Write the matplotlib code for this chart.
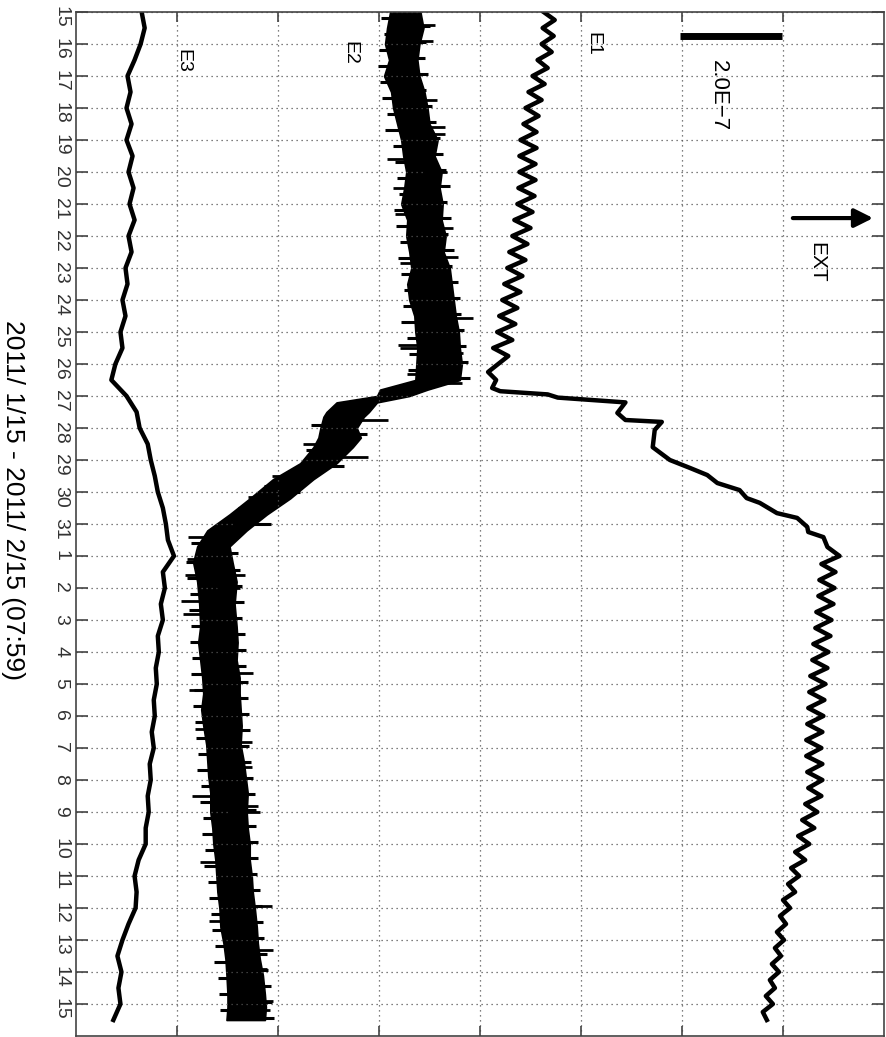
import numpy as np
import matplotlib.pyplot as plt

plt.rcParams['font.family'] = ['Liberation Sans', 'DejaVu Sans']

# time axis: days since 2011-01-15 00:00, value axis: grid divisions (1 div = 2.0E-7)
day_labels = [str(d) for d in range(15, 32)] + [str(d) for d in range(1, 16)]

# E1 - before the step (every 6 h from day 0)
e1_before = [4.63, 4.74, 4.62, 4.73, 4.61, 4.71, 4.57, 4.67,
             4.52, 4.64, 4.48, 4.61, 4.45, 4.58, 4.43, 4.56,
             4.40, 4.56, 4.39, 4.55, 4.39, 4.55, 4.38, 4.54,
             4.37, 4.52, 4.34, 4.50, 4.32, 4.47, 4.29, 4.45,
             4.27, 4.42, 4.24, 4.40, 4.22, 4.37, 4.19, 4.35,
             4.17, 4.32, 4.13, 4.28, 4.18, 4.08, 4.16, 4.12]
# E1 - step
e1_step_t = [11.85, 11.95, 12.05, 12.2, 12.53, 12.75, 12.81, 13.06, 13.6, 14.0, 14.25,
             14.47, 14.72, 14.94, 15.19, 15.34, 15.66, 15.81, 16.09, 16.25, 16.41, 16.72]
e1_step = [4.20, 4.67, 4.77, 5.44, 5.36, 5.44, 5.80, 5.73, 5.71, 5.88, 6.08,
           6.25, 6.35, 6.57, 6.64, 6.77, 6.94, 7.14, 7.24, 7.25, 7.40, 7.44]
# E1 - after the step (every 6 h from day 17)
e1_after = [7.56, 7.38, 7.52, 7.36, 7.51, 7.35, 7.50, 7.33,
            7.48, 7.32, 7.47, 7.30, 7.45, 7.29, 7.44, 7.27,
            7.42, 7.26, 7.41, 7.25, 7.40, 7.24, 7.39, 7.23,
            7.38, 7.23, 7.39, 7.24, 7.39, 7.25, 7.38, 7.22,
            7.34, 7.19, 7.31, 7.15, 7.26, 7.12, 7.22, 7.08,
            7.16, 7.05, 7.12, 7.00, 7.07, 6.97, 7.03, 6.94,
            7.01, 6.92, 6.98, 6.89, 6.96, 6.87, 6.92, 6.83,
            6.90, 6.80, 6.84]

# E2 - noisy band: left / right edge of the trace
e2_t = [0.0, 0.5, 1.0, 1.5, 2.0, 2.5, 3.0, 3.5, 4.0, 4.5, 5.0, 5.5, 6.0, 6.5, 7.0, 7.5,
        8.0, 8.5, 9.0, 9.5, 10.0, 10.5, 11.0, 11.5,
        11.8, 12.0, 12.2, 12.5, 12.65, 13.0, 13.3, 13.6, 14.1, 14.6, 15.2, 15.7, 16.2,
        16.7, 17.2, 17.8,
        18.5, 19.2, 19.7, 20.25, 20.8, 21.3, 21.8, 22.3, 22.9, 23.4, 23.9, 24.4, 25.0,
        25.5, 26.0, 26.5, 27.0, 27.5, 28.0, 28.6, 29.1, 29.6, 30.1, 30.7, 31.1, 31.5]
e2_left = [3.11, 3.08, 3.06, 3.10, 3.05, 3.12, 3.14, 3.18, 3.22, 3.24, 3.27, 3.25,
           3.22, 3.28, 3.27, 3.30, 3.32, 3.28, 3.30, 3.35, 3.36, 3.38, 3.37, 3.36,
           3.01, 2.98, 2.58, 2.48, 2.45, 2.42, 2.40, 2.35, 2.22, 1.95, 1.72, 1.52,
           1.30, 1.20, 1.16, 1.20,
           1.22, 1.23, 1.21, 1.23, 1.25, 1.26, 1.24, 1.26, 1.29, 1.30, 1.31, 1.33,
           1.33, 1.35, 1.36, 1.38, 1.39, 1.40, 1.42, 1.43, 1.46, 1.48, 1.49, 1.50,
           1.50, 1.49]
e2_right = [3.41, 3.44, 3.40, 3.38, 3.40, 3.45, 3.48, 3.50, 3.58, 3.55, 3.62, 3.60,
            3.63, 3.62, 3.66, 3.64, 3.70, 3.72, 3.74, 3.76, 3.79, 3.80, 3.82, 3.80,
            3.48, 3.30, 2.98, 2.90, 2.85, 2.78, 2.82, 2.74, 2.58, 2.35, 2.12, 1.89,
            1.69, 1.52, 1.55, 1.59,
            1.57, 1.59, 1.60, 1.59, 1.62, 1.62, 1.63, 1.64, 1.63, 1.66, 1.68, 1.70,
            1.69, 1.70, 1.72, 1.72, 1.74, 1.75, 1.77, 1.79, 1.80, 1.82, 1.85, 1.87,
            1.88, 1.87]
# E2 - large single excursions
e2_spike_t = [0.4, 0.9, 1.2, 2.2, 2.75, 3.6, 3.8, 4.6, 5.0, 5.5, 6.3, 6.75, 7.65, 7.85,
              9.55, 10.4, 10.5, 10.65, 11.3, 11.6, 12.75, 13.5, 13.9, 14.5, 15.15, 15.8,
              16.4, 17.1, 17.6, 17.6, 18.0, 18.4, 18.8, 19.2, 20.65, 21.2, 22.4, 22.8,
              23.6, 24.5, 24.8, 25.0, 26.55, 27.95, 28.4, 29.3, 29.9, 30.9, 31.2]
e2_spike_x = [3.55, 3.53, 3.04, 3.04, 3.57, 3.65, 3.65, 3.08, 3.67, 3.14, 3.16, 3.73, 3.78, 3.21,
              3.93, 3.19, 3.21, 3.83, 3.28, 3.82, 3.09, 2.25, 2.89, 1.94, 1.70, 1.52,
              1.11, 1.10, 1.67, 1.08, 1.62, 1.04, 1.06, 1.15, 1.75, 1.12, 1.18, 1.74,
              1.74, 1.15, 1.80, 1.82, 1.23, 1.94, 1.32, 1.95, 1.89, 1.95, 1.92]
# E2 - small excursions along both edges of the band
e2_jag_t = [0.2, 0.45, 0.7, 0.95, 1.2, 1.45, 1.7, 1.95, 2.2, 2.45, 2.7, 2.95,
            3.2, 3.45, 3.7, 3.95, 4.2, 4.45, 4.7, 4.95, 5.2, 5.45, 5.7, 5.95,
            6.2, 6.45, 6.7, 6.95, 7.2, 7.45, 7.7, 7.95, 8.2, 8.45, 8.7, 8.95,
            9.2, 9.45, 9.7, 9.95, 10.2, 10.45, 10.7, 10.95, 11.2, 11.45, 11.7,
            12.9, 13.2, 13.7, 14.2, 14.8, 15.0, 15.5, 16.0, 16.6, 16.9,
            17.2, 17.45, 17.7, 17.95, 18.2, 18.45, 18.7, 18.95, 19.2, 19.45, 19.7, 19.95,
            20.2, 20.45, 20.7, 20.95, 21.2, 21.45, 21.7, 21.95, 22.2, 22.45, 22.7, 22.95,
            23.2, 23.45, 23.7, 23.95, 24.2, 24.45, 24.7, 24.95, 25.2, 25.45, 25.7, 25.95,
            26.2, 26.45, 26.7, 26.95, 27.2, 27.45, 27.7, 27.95, 28.2, 28.45, 28.7, 28.95,
            29.2, 29.45, 29.7, 29.95, 30.2, 30.45, 30.7, 30.95, 31.2, 31.45]
e2_jag_x = [3.02, 3.50, 3.05, 3.47, 3.00, 3.46, 2.99, 3.49, 3.01, 3.47, 3.03, 3.52,
            3.08, 3.56, 3.06, 3.60, 3.14, 3.63, 3.16, 3.66, 3.18, 3.70, 3.20, 3.67,
            3.15, 3.71, 3.17, 3.68, 3.21, 3.74, 3.19, 3.72, 3.22, 3.78, 3.25, 3.80,
            3.24, 3.81, 3.22, 3.84, 3.28, 3.86, 3.30, 3.88, 3.29, 3.90, 3.30,
            2.33, 2.88, 2.28, 2.65, 1.86, 2.22, 1.60, 1.93, 1.14, 1.60,
            1.09, 1.62, 1.10, 1.64, 1.13, 1.66, 1.12, 1.64, 1.14, 1.67, 1.13, 1.68,
            1.15, 1.68, 1.14, 1.70, 1.17, 1.70, 1.16, 1.71, 1.18, 1.72, 1.19, 1.71,
            1.21, 1.73, 1.20, 1.75, 1.24, 1.77, 1.23, 1.78, 1.26, 1.78, 1.25, 1.80,
            1.28, 1.80, 1.27, 1.79, 1.31, 1.82, 1.32, 1.84, 1.34, 1.85, 1.35, 1.86,
            1.38, 1.89, 1.37, 1.90, 1.41, 1.93, 1.42, 1.94, 1.43, 1.96]

# E3 - every 12 h from day 0
e3 = [0.65, 0.68, 0.64, 0.58, 0.51, 0.54, 0.50, 0.55, 0.50, 0.56,
      0.52, 0.57, 0.53, 0.58, 0.52, 0.55, 0.49, 0.51, 0.46, 0.49,
      0.44, 0.46, 0.39, 0.35, 0.50, 0.60, 0.63, 0.71, 0.74, 0.78,
      0.81, 0.86, 0.89, 0.91, 0.97, 0.86, 0.88, 0.84, 0.86, 0.81,
      0.82, 0.79, 0.80, 0.77, 0.78, 0.75, 0.77, 0.73, 0.74, 0.71,
      0.72, 0.69, 0.69, 0.62, 0.58, 0.60, 0.59, 0.52, 0.46, 0.41,
      0.45, 0.42, 0.44, 0.37]

e1_t = np.concatenate([np.arange(len(e1_before)) * 0.25, e1_step_t,
                       17 + np.arange(len(e1_after)) * 0.25])
e1_v = np.concatenate([e1_before, e1_step, e1_after])
e3_t = np.arange(len(e3)) * 0.5

fig = plt.figure(figsize=(8.86, 10.37), dpi=100)
ax = fig.add_axes([76 / 886, 1 / 1037, 808 / 886, 1024 / 1037])

# traces
ax.plot(e1_v, e1_t, color='k', lw=3.2, solid_joinstyle='round')
ax.plot(e3, e3_t, color='k', lw=3.2, solid_joinstyle='round')
ax.fill_betweenx(e2_t, e2_left, e2_right, color='k', lw=1.2, edgecolor='k')
centre = (np.array(e2_left) + np.array(e2_right)) / 2
ax.hlines(e2_spike_t, np.interp(e2_spike_t, e2_t, centre), e2_spike_x, color='k', lw=2)
ax.hlines(e2_jag_t, np.interp(e2_jag_t, e2_t, centre), e2_jag_x, color='k', lw=2.2)

# labels, scale bar and direction arrow
for name, x, t in [('E1', 5.12, 1.0), ('E2', 2.71, 1.28), ('E3', 1.06, 1.53)]:
    ax.text(x, t, name, rotation=-90, ha='center', va='center', fontsize=14)
ax.plot([5.98, 6.99], [0.75, 0.75], color='k', lw=5, solid_capstyle='butt')
ax.text(6.36, 2.62, '2.0E\u22127', rotation=-90, ha='center', va='center', fontsize=16)
ax.annotate('', xy=(7.92, 6.44), xytext=(7.07, 6.44),
            arrowprops=dict(arrowstyle='-|>', lw=3, color='k', mutation_scale=28))
ax.text(7.33, 7.81, 'EXT', rotation=-90, ha='center', va='center', fontsize=15)

ax.set_xlim(0, 8)
ax.set_ylim(32, 0)
ax.set_xticks(range(1, 8))
ax.set_yticks(range(0, 32))
ax.set_yticklabels(day_labels)
ax.grid(True, color='#555555', ls=(0, (1, 3)), lw=0.9)
ax.tick_params(axis='y', direction='in', length=8.5, width=1.2, left=True, right=True,
               pad=5, labelrotation=-90, labelsize=14, labelcolor='#333333', color='#444444')
ax.tick_params(axis='x', direction='in', length=7.5, width=1.2, top=True, bottom=True,
               labelbottom=False, color='#444444')
for sp in ax.spines.values():
    sp.set_color('#444444')
    sp.set_linewidth(1.2)

fig.text(13 / 886, 1 - 500 / 1037, '2011/ 1/15 - 2011/ 2/15 (07:59)', rotation=-90,
         ha='center', va='center', fontsize=19)

fig.savefig('out.png', dpi=100)
